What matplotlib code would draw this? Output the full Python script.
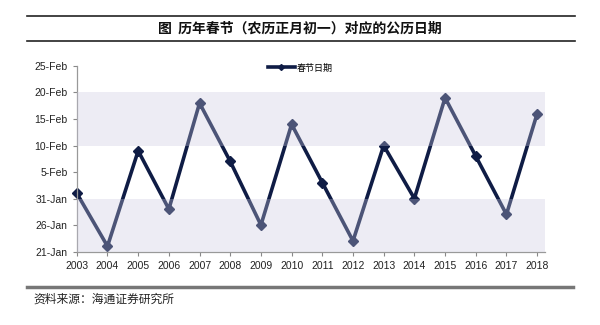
import matplotlib
matplotlib.use("Agg")
import matplotlib.pyplot as plt
from matplotlib.lines import Line2D

plt.rcParams['font.family'] = ['Liberation Sans', 'Noto Sans CJK SC', 'DejaVu Sans']

# 春节日期 (day of year, Jan 1 = 1)
years = [2003, 2004, 2005, 2006, 2007, 2008, 2009, 2010,
         2011, 2012, 2013, 2014, 2015, 2016, 2017, 2018]
spring_day = [32, 22, 40, 29, 49, 38, 26, 45, 34, 23, 41, 31, 50, 39, 28, 47]

ytick_vals = [21, 26, 31, 36, 41, 46, 51, 56]
ytick_labels = ['21-Jan', '26-Jan', '31-Jan', '5-Feb', '10-Feb', '15-Feb', '20-Feb', '25-Feb']
bands = [(21, 31), (41, 51)]

navy = '#0f1c45'

fig = plt.figure(figsize=(6, 3.25), dpi=100)
ax = fig.add_axes([0.128, 0.226, 0.78, 0.571])

ax.plot(years, spring_day, color=navy, lw=2.6, marker='D', ms=5.5,
        markerfacecolor=navy, markeredgecolor=navy, zorder=2, clip_on=False)
# shaded bands drawn over the line, giving it the lighter look inside them
for lo, hi in bands:
    ax.axhspan(lo, hi, color='#cac8de', alpha=0.33, lw=0, zorder=3)

ax.set_xlim(2003, 2018.25)
ax.set_ylim(21, 56)
ax.set_yticks(ytick_vals)
ax.set_yticklabels(ytick_labels)
ax.set_xticks(years)
ax.set_xticklabels([str(y) for y in years])
ax.tick_params(axis='both', labelsize=7.5, length=3, width=0.8,
               colors='#888888', labelcolor='#222222')
for s in ['top', 'right']:
    ax.spines[s].set_visible(False)
for s in ['left', 'bottom']:
    ax.spines[s].set_color('#999999')
    ax.spines[s].set_linewidth(0.9)

handle = Line2D([], [], color=navy, lw=2.6, marker='D', ms=3, markerfacecolor=navy)
fig.legend([handle], ['春节日期'], loc='center', bbox_to_anchor=(0.5, 1 - 68 / 325),
           frameon=False, handlelength=3.0, handletextpad=0.2,
           prop={'family': ['Noto Sans CJK SC'], 'size': 6.5})

# title block with rules
fig.add_artist(Line2D([0.045, 0.958], [1 - 16 / 325] * 2, color='#222222', lw=1.2))
fig.add_artist(Line2D([0.045, 0.958], [1 - 41 / 325] * 2, color='#222222', lw=1.2))
fig.text(0.5, 1 - 28.5 / 325, '图  历年春节（农历正月初一）对应的公历日期', ha='center', va='center',
         fontsize=10, fontweight='bold', family=['Noto Sans CJK SC'], color='#111111')

# source line
fig.add_artist(Line2D([0.045, 0.955], [1 - 287 / 325] * 2, color='#777777', lw=2.5))
fig.text(0.055, 1 - 299 / 325, '资料来源：海通证券研究所', ha='left', va='center',
         fontsize=8.5, family=['Noto Sans CJK SC'], color='#222222')

fig.savefig('out.png', dpi=100, facecolor='white')
